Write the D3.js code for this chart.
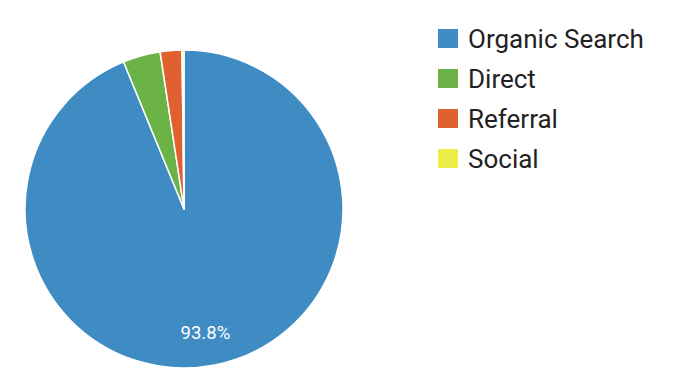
<!DOCTYPE html>
<html>
<head>
<meta charset="utf-8">
<script src="https://cdn.jsdelivr.net/npm/d3@7"></script>
<style>
  body { margin: 0; background: #fff; }
  text { font-family: Roboto, "Noto Sans", sans-serif; }
</style>
</head>
<body>
<script>
var categories = ["Organic Search", "Direct", "Referral", "Social"];
var values = [93.8, 3.8, 2.2, 0.2];
var colors = ["#3e8cc3", "#6cb347", "#e0602f", "#eeee4a"];

var w = 692, h = 392,
    cx = 184, cy = 209, r = 159;

var svg = d3.select("body").append("svg")
    .attr("width", w)
    .attr("height", h);

var data = categories.map(function(c, i) { return { name: c, value: values[i], color: colors[i] }; });

var pie = d3.pie()
    .value(function(d) { return d.value; })
    .sort(null);

var arc = d3.arc().innerRadius(0).outerRadius(r);
var labelArc = d3.arc().innerRadius(126).outerRadius(126);

var g = svg.append("g")
    .attr("transform", "translate(" + cx + "," + cy + ")");

var arcs = pie(data);

g.selectAll("path")
    .data(arcs)
    .enter()
    .append("path")
    .attr("d", arc)
    .attr("fill", function(d) { return d.data.color; })
    .attr("stroke", "#fff")
    .attr("stroke-width", 1.5)
    .attr("stroke-linejoin", "round");

// only slices big enough get a label
g.selectAll("text.pct")
    .data(arcs.filter(function(d) { return d.endAngle - d.startAngle > 0.5; }))
    .enter()
    .append("text")
    .attr("class", "pct")
    .attr("transform", function(d) { return "translate(" + labelArc.centroid(d) + ")"; })
    .attr("text-anchor", "middle")
    .attr("dx", "-3")
    .attr("dy", "0.35em")
    .attr("fill", "#fff")
    .style("font-size", "18.5px")
    .text(function(d) { return d.data.value.toFixed(1) + "%"; });

var legend = svg.append("g")
    .attr("transform", "translate(438,29)");

var item = legend.selectAll("g")
    .data(data)
    .enter()
    .append("g")
    .attr("transform", function(d, i) { return "translate(0," + i * 40 + ")"; });

item.append("rect")
    .attr("width", 20)
    .attr("height", 19)
    .attr("fill", function(d) { return d.color; });

item.append("text")
    .attr("x", 30)
    .attr("y", 10)
    .attr("dy", "0.35em")
    .attr("fill", "#222")
    .style("font-size", "26px")
    .text(function(d) { return d.name; });
</script>
</body>
</html>
